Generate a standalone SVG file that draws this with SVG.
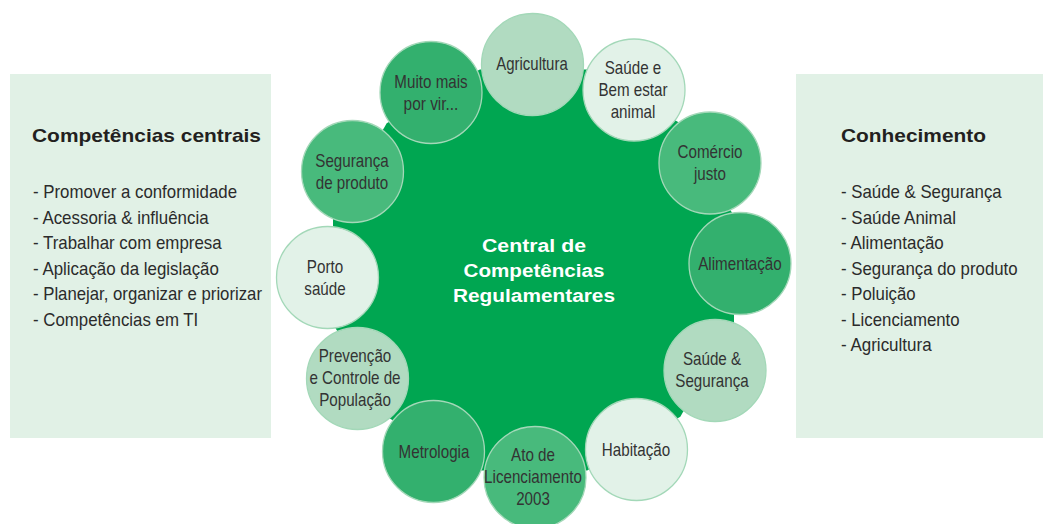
<svg xmlns="http://www.w3.org/2000/svg" width="1043" height="524" viewBox="0 0 1043 524">
<style>
.panel{fill:#e1f1e6}
.node circle{stroke:#a3d8b8;stroke-width:1.3}
.vl{fill:#e2f2e8}
.lt{fill:#b1dbc1}
.md{fill:#48ba7c}
.dk{fill:#33b06e}
.ct{font-family:"Liberation Sans",Arial,sans-serif;font-size:18.5px;fill:#333333;text-anchor:middle}
.list{font-family:"Liberation Sans",Arial,sans-serif;font-size:19px;fill:#2b2b2b}
.head{font-family:"Liberation Sans",Arial,sans-serif;font-size:19px;font-weight:bold;fill:#231f20}
.center{font-family:"Liberation Sans",Arial,sans-serif;font-size:18px;font-weight:bold;fill:#ffffff;text-anchor:middle}
</style>
<rect width="1043" height="524" fill="#ffffff"/>
<g id="panel-left">
<rect class="panel" x="10" y="74" width="261" height="364"/>
<text class="head" x="32" y="142" textLength="229" lengthAdjust="spacingAndGlyphs">Competências centrais</text>
<text class="list" x="33" y="198" textLength="204" lengthAdjust="spacingAndGlyphs">- Promover a conformidade</text>
<text class="list" x="33" y="223.5" textLength="175.6" lengthAdjust="spacingAndGlyphs">- Acessoria &amp; influência</text>
<text class="list" x="33" y="249" textLength="188.7" lengthAdjust="spacingAndGlyphs">- Trabalhar com empresa</text>
<text class="list" x="33" y="274.5" textLength="185.9" lengthAdjust="spacingAndGlyphs">- Aplicação da legislação</text>
<text class="list" x="33" y="300" textLength="229" lengthAdjust="spacingAndGlyphs">- Planejar, organizar e priorizar</text>
<text class="list" x="33" y="325.5" textLength="165.3" lengthAdjust="spacingAndGlyphs">- Competências em TI</text>
</g>
<g id="panel-right">
<rect class="panel" x="796" y="74" width="247" height="364"/>
<text class="head" x="841" y="142" textLength="145" lengthAdjust="spacingAndGlyphs">Conhecimento</text>
<text class="list" x="841" y="198" textLength="160.7" lengthAdjust="spacingAndGlyphs">- Saúde &amp; Segurança</text>
<text class="list" x="841" y="223.5" textLength="114.9" lengthAdjust="spacingAndGlyphs">- Saúde Animal</text>
<text class="list" x="841" y="249" textLength="102.8" lengthAdjust="spacingAndGlyphs">- Alimentação</text>
<text class="list" x="841" y="274.5" textLength="176.6" lengthAdjust="spacingAndGlyphs">- Segurança do produto</text>
<text class="list" x="841" y="300" textLength="74.7" lengthAdjust="spacingAndGlyphs">- Poluição</text>
<text class="list" x="841" y="325.5" textLength="118.6" lengthAdjust="spacingAndGlyphs">- Licenciamento</text>
<text class="list" x="841" y="351" textLength="90.6" lengthAdjust="spacingAndGlyphs">- Agricultura</text>
</g>
<g id="center">
<polygon fill="#00a651" points="734,216.3 680.3,123.2 587.2,69.5 479.8,69.5 386.7,123.2 333,216.3 333,323.7 386.7,416.8 479.8,470.5 587.2,470.5 680.3,416.8 734,323.7"/>
<text class="center" x="534" y="251.5" textLength="104" lengthAdjust="spacingAndGlyphs">Central de</text>
<text class="center" x="534" y="276.5" textLength="141" lengthAdjust="spacingAndGlyphs">Competências</text>
<text class="center" x="534" y="301.5" textLength="162" lengthAdjust="spacingAndGlyphs">Regulamentares</text>
</g>
<g id="connectors"></g>
<g id="n-agricultura" class="node"><circle class="lt" cx="532.5" cy="64.5" r="51"/>
<text class="ct" x="532" y="70" textLength="71.5" lengthAdjust="spacingAndGlyphs">Agricultura</text></g>
<g id="n-bemestar" class="node"><circle class="vl" cx="634" cy="90" r="51"/>
<text class="ct" x="633" y="74" textLength="56.5" lengthAdjust="spacingAndGlyphs">Saúde e</text>
<text class="ct" x="633" y="96" textLength="69.1" lengthAdjust="spacingAndGlyphs">Bem estar</text>
<text class="ct" x="633" y="118" textLength="44.7" lengthAdjust="spacingAndGlyphs">animal</text></g>
<g id="n-comercio" class="node"><circle class="md" cx="710" cy="163" r="51"/>
<text class="ct" x="710" y="157.5" textLength="64.9" lengthAdjust="spacingAndGlyphs">Comércio</text>
<text class="ct" x="710" y="179.5" textLength="32" lengthAdjust="spacingAndGlyphs">justo</text></g>
<g id="n-alimentacao" class="node"><circle class="dk" cx="740" cy="263.5" r="51"/>
<text class="ct" x="740" y="270" textLength="83.5" lengthAdjust="spacingAndGlyphs">Alimentação</text></g>
<g id="n-saudeseg" class="node"><circle class="lt" cx="715" cy="370.5" r="51"/>
<text class="ct" x="712" y="365" textLength="58.2" lengthAdjust="spacingAndGlyphs">Saúde &amp;</text>
<text class="ct" x="712" y="387" textLength="73.4" lengthAdjust="spacingAndGlyphs">Segurança</text></g>
<g id="n-habitacao" class="node"><circle class="vl" cx="636.5" cy="449.5" r="51"/>
<text class="ct" x="636" y="456" textLength="68.3" lengthAdjust="spacingAndGlyphs">Habitação</text></g>
<g id="n-ato" class="node"><circle class="md" cx="535" cy="477.5" r="51"/>
<text class="ct" x="533" y="461" textLength="43.9" lengthAdjust="spacingAndGlyphs">Ato de</text>
<text class="ct" x="533" y="483" textLength="97.8" lengthAdjust="spacingAndGlyphs">Licenciamento</text>
<text class="ct" x="533" y="505" textLength="33.7" lengthAdjust="spacingAndGlyphs">2003</text></g>
<g id="n-metrologia" class="node"><circle class="dk" cx="433.5" cy="451.5" r="51"/>
<text class="ct" x="434" y="458" textLength="70.8" lengthAdjust="spacingAndGlyphs">Metrologia</text></g>
<g id="n-prevencao" class="node"><circle class="lt" cx="357.5" cy="378.5" r="51"/>
<text class="ct" x="355" y="362" textLength="72.5" lengthAdjust="spacingAndGlyphs">Prevenção</text>
<text class="ct" x="355" y="384" textLength="91.1" lengthAdjust="spacingAndGlyphs">e Controle de</text>
<text class="ct" x="355" y="406" textLength="71.7" lengthAdjust="spacingAndGlyphs">População</text></g>
<g id="n-porto" class="node"><circle class="vl" cx="327.5" cy="277.5" r="51"/>
<text class="ct" x="325" y="273" textLength="36.3" lengthAdjust="spacingAndGlyphs">Porto</text>
<text class="ct" x="325" y="294.5" textLength="41.3" lengthAdjust="spacingAndGlyphs">saúde</text></g>
<g id="n-seguranca" class="node"><circle class="md" cx="352.5" cy="171.5" r="51"/>
<text class="ct" x="352" y="167" textLength="73.4" lengthAdjust="spacingAndGlyphs">Segurança</text>
<text class="ct" x="352" y="189" textLength="72.5" lengthAdjust="spacingAndGlyphs">de produto</text></g>
<g id="n-muito" class="node"><circle class="dk" cx="431" cy="92.5" r="51"/>
<text class="ct" x="431" y="87.5" textLength="73.3" lengthAdjust="spacingAndGlyphs">Muito mais</text>
<text class="ct" x="431" y="109.5" textLength="54.8" lengthAdjust="spacingAndGlyphs">por vir...</text></g>
</svg>
